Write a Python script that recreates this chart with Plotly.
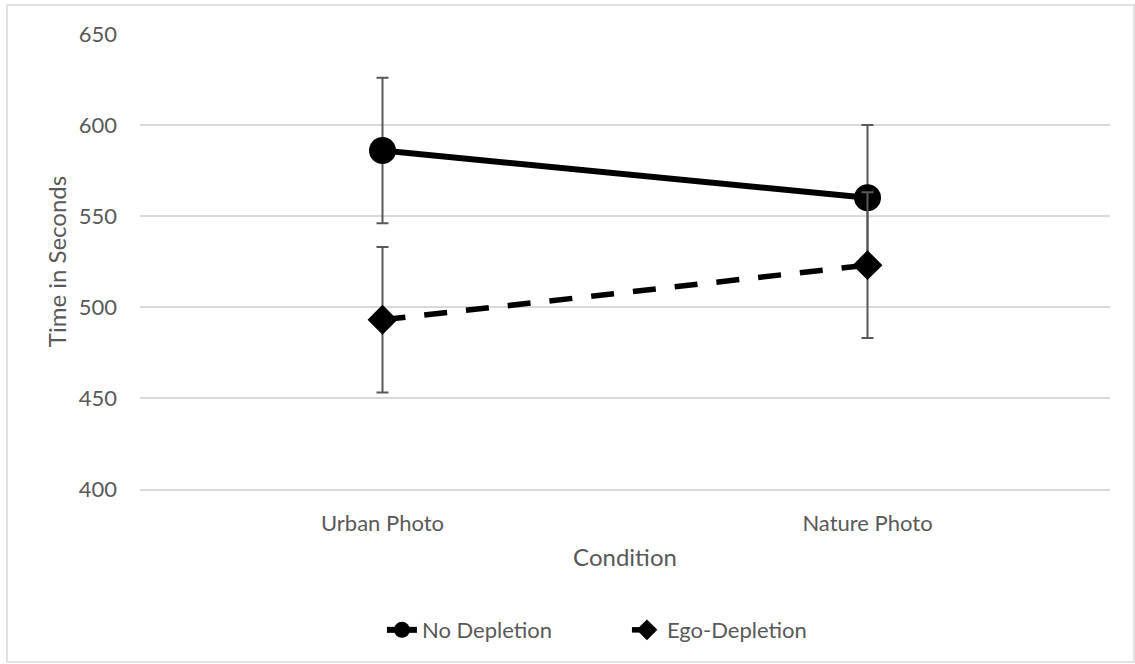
import plotly.graph_objects as go

categories = ["Urban Photo", "Nature Photo"]
no_depletion = [586, 560]
no_depletion_err = [40, 40]
ego_depletion = [493, 523]
ego_depletion_err = [40, 40]
y_ticks = [400, 450, 500, 550, 600, 650]

FONT = "Lato, 'Open Sans', sans-serif"
GRAY = "#595959"

fig = go.Figure()
fig.add_trace(go.Scatter(
    x=categories, y=no_depletion, name="No Depletion", mode="lines+markers",
    line=dict(color="black", width=6),
    marker=dict(symbol="circle", size=27, color="black"),
    error_y=dict(type="data", array=no_depletion_err, color=GRAY, thickness=2, width=6),
))
fig.add_trace(go.Scatter(
    x=categories, y=ego_depletion, name="Ego-Depletion", mode="lines+markers",
    line=dict(color="black", width=5.5, dash="23px,19px"),
    marker=dict(symbol="diamond", size=23, color="black"),
    error_y=dict(type="data", array=ego_depletion_err, color=GRAY, thickness=2, width=6),
))

fig.update_layout(
    width=1135, height=664,
    margin=dict(l=140, r=25, t=34, b=175),
    paper_bgcolor="white", plot_bgcolor="white",
    font=dict(family=FONT, size=22, color=GRAY),
    showlegend=True,
    legend=dict(orientation="h", x=0.502, xanchor="center", y=-0.31, yanchor="middle",
                font=dict(size=22, color=GRAY), entrywidth=200),
    xaxis=dict(
        type="category", range=[-0.5, 1.5], showgrid=False, zeroline=False,
        showline=True, linecolor="#d9d9d9", linewidth=1.5,
        ticks="", ticklabelstandoff=14,
        title=dict(text="Condition", font=dict(size=24, color=GRAY), standoff=14),
    ),
    yaxis=dict(
        range=[400, 650], tickvals=y_ticks, showgrid=True, gridcolor="#d9d9d9", gridwidth=1.5,
        zeroline=False, showline=False, ticks="", ticklabelstandoff=22,
        title=dict(text="Time in Seconds", font=dict(size=24, color=GRAY), standoff=5),
    ),
    shapes=[dict(type="rect", xref="paper", yref="paper",
                 x0=(7 - 140) / 970, x1=(1134 - 140) / 970,
                 y0=(489 - 662) / 455, y1=(489 - 5) / 455,
                 line=dict(color="#d9d9d9", width=1.5), layer="below")],
)

fig.write_html("out.html")
